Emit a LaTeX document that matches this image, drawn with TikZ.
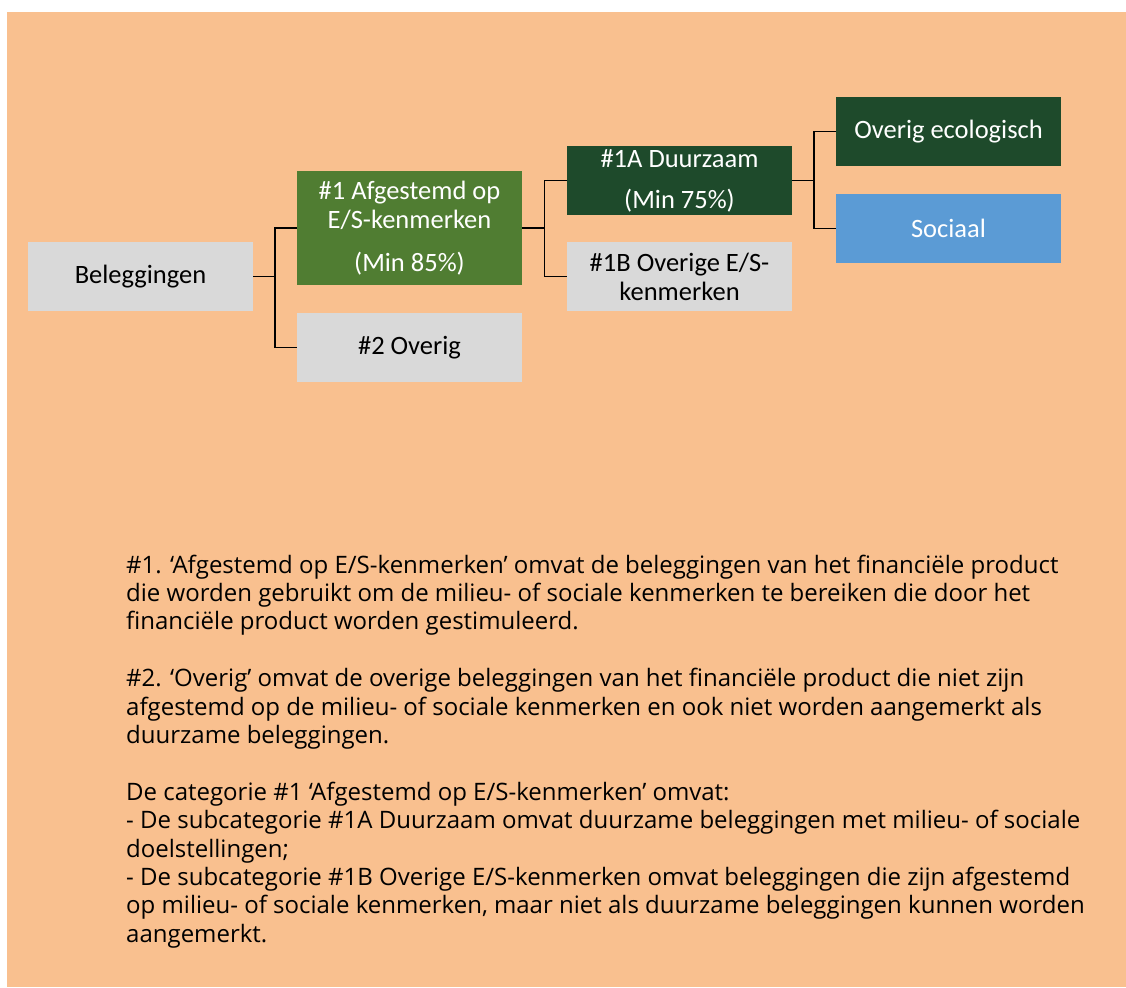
\documentclass[tikz,border=0pt]{standalone}
\usepackage{fontspec}
\setmainfont{Carlito}
\newfontfamily\bodyfont{Open Sans}
\definecolor{bgorange}{HTML}{F9C08F}
\definecolor{boxgray}{HTML}{D9D9D9}
\definecolor{midgreen}{HTML}{507D32}
\definecolor{darkgreen}{HTML}{1E4A2B}
\definecolor{socblue}{HTML}{5B9BD5}
\tikzset{
  box/.style={minimum width=225pt, minimum height=68.7pt, inner sep=0pt, align=center,
    font=\fontsize{26.5}{29}\selectfont},
  graybox/.style={box, fill=boxgray, text=black},
  greenbox/.style={box, fill=midgreen, text=white},
  darkbox/.style={box, fill=darkgreen, text=white},
  bluebox/.style={box, fill=socblue, text=white},
  conn/.style={draw=black, line width=1.3pt},
}
\begin{document}
\begin{tikzpicture}[x=1pt,y=-1pt]
\useasboundingbox (0,0) rectangle (1126,987);
\fill[bgorange] (7,12) rectangle (1126,987);

\node[graybox] (bel) at (140.5,276.4) {Beleggingen};
\node[greenbox, minimum height=113.7pt] (a1) at (409.5,227.9) {\raisebox{0pt}[\height][\depth]{}\#1 Afgestemd op\\E/S-kenmerken\\[14pt](Min 85\%)};
\node[graybox] (o2) at (409.5,347.4) {\#2 Overig};
\node[darkbox] (a1A) at (679.5,180.4) {\#1A Duurzaam\\[12pt](Min 75\%)};
\node[graybox] (a1B) at (679.5,276.4) {\#1B Overige E/S-\\kenmerken};
\node[darkbox] (eco) at (948.5,131.4) {Overig ecologisch};
\node[bluebox] (soc) at (948.5,228.4) {Sociaal};

\draw[conn] (bel.east) -- ++(21.7,0) |- (a1.west);
\draw[conn] (bel.east) -- ++(21.7,0) |- (o2.west);
\draw[conn] (a1.east) -- ++(22.3,0) |- (a1A.west);
\draw[conn] (a1.east) -- ++(22.3,0) |- (a1B.west);
\draw[conn] (a1A.east) -- ++(21.7,0) |- (eco.west);
\draw[conn] (a1A.east) -- ++(21.7,0) |- (soc.west);

\node[anchor=base west, inner sep=0pt, align=left, font=\bodyfont\fontsize{24}{28.4}\selectfont] (txt) at (126,942.2)
{\#1. ‘Afgestemd op E/S-kenmerken’ omvat de beleggingen van het financiële product\\
die worden gebruikt om de milieu- of sociale kenmerken te bereiken die door het\\
financiële product worden gestimuleerd.\\
\mbox{}\\
\#2. ‘Overig’ omvat de overige beleggingen van het financiële product die niet zijn\\
afgestemd op de milieu- of sociale kenmerken en ook niet worden aangemerkt als\\
duurzame beleggingen.\\
\mbox{}\\
De categorie \#1 ‘Afgestemd op E/S-kenmerken’ omvat:\\
- De subcategorie \#1A Duurzaam omvat duurzame beleggingen met milieu- of sociale\\
doelstellingen;\\
- De subcategorie \#1B Overige E/S-kenmerken omvat beleggingen die zijn afgestemd\\
op milieu- of sociale kenmerken, maar niet als duurzame beleggingen kunnen worden\\
aangemerkt.};
\end{tikzpicture}
\end{document}
